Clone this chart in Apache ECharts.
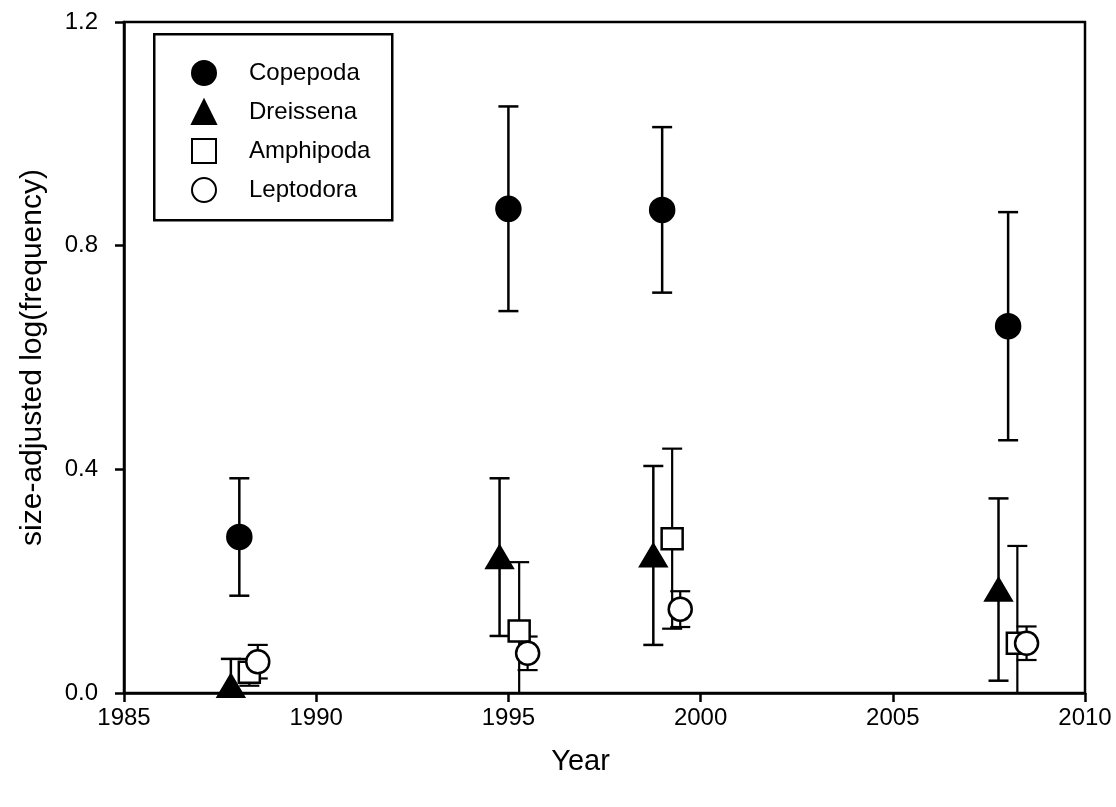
<!DOCTYPE html>
<html>
<head>
<meta charset="utf-8">
<script src="https://cdn.jsdelivr.net/npm/echarts@6/dist/echarts.min.js"></script>
<style>
  html, body { margin: 0; padding: 0; background: #fff; }
  #chart { width: 1116px; height: 807px; }
</style>
</head>
<body>
<div id="chart"></div>
<script>
// ---- data ----
const seriesNames = ['Copepoda', 'Dreissena', 'Amphipoda', 'Leptodora'];
const xTicks = [1985, 1990, 1995, 2000, 2005, 2010];
const yTicks = [0.0, 0.4, 0.8, 1.2];

const copYears = [1988.0, 1995.0, 1999.0, 2008.0];
const copMean  = [0.279, 0.866, 0.864, 0.656];
const copErr   = [0.105, 0.183, 0.148, 0.204];

const dreYears = [1987.78, 1994.77, 1998.77, 2007.75];
const dreMean  = [0.013, 0.243, 0.246, 0.185];
const dreErr   = [0.048, 0.141, 0.160, 0.163];

const ampYears = [1988.26, 1995.28, 1999.26, 2008.24];
const ampMean  = [0.037, 0.111, 0.276, 0.089];
const ampErr   = [0.024, 0.123, 0.161, 0.174];

const lepYears = [1988.48, 1995.5, 1999.47, 2008.48];
const lepMean  = [0.056, 0.071, 0.150, 0.089];
const lepErr   = [0.030, 0.030, 0.032, 0.030];

const FONT = 'Liberation Sans, Arial, Helvetica, sans-serif';

function toPoints(xs, ys) { return xs.map((x, i) => [x, ys[i]]); }
function toBars(xs, ys, es) { return xs.map((x, i) => [x, ys[i] - es[i], ys[i] + es[i]]); }

function errorSeries(name, data, lw) {
  return {
    type: 'custom',
    name: name + ' error',
    data: data,
    clip: true,
    silent: true,
    encode: { x: 0, y: [1, 2] },
    renderItem: function (params, api) {
      const x = api.value(0);
      const lo = api.coord([x, api.value(1)]);
      const hi = api.coord([x, api.value(2)]);
      const hw = 10;
      const st = { stroke: '#000', lineWidth: lw, fill: null };
      return {
        type: 'group',
        children: [
          { type: 'line', shape: { x1: lo[0], y1: lo[1], x2: hi[0], y2: hi[1] }, style: st },
          { type: 'line', shape: { x1: hi[0] - hw, y1: hi[1], x2: hi[0] + hw, y2: hi[1] }, style: st },
          { type: 'line', shape: { x1: lo[0] - hw, y1: lo[1], x2: lo[0] + hw, y2: lo[1] }, style: st }
        ]
      };
    }
  };
}

function pointSeries(name, data, symbol, size, fill) {
  return {
    type: 'scatter',
    name: name,
    data: data,
    symbol: symbol,
    symbolSize: size,
    clip: false,
    itemStyle: { color: fill, borderColor: '#000', borderWidth: 2.5, opacity: 1 },
    emphasis: { disabled: true }
  };
}

const chart = echarts.init(document.getElementById('chart'), null, { renderer: 'canvas' });

const option = {
  animation: false,
  backgroundColor: '#fff',
  textStyle: { fontFamily: FONT, color: '#000' },
  grid: {
    left: 124, right: 31, top: 22, bottom: 114,
    show: true, borderColor: '#000', borderWidth: 2.5, backgroundColor: 'transparent'
  },
  graphic: [{
    type: 'rect',
    left: 153, top: 33,
    shape: { width: 238, height: 186 },
    style: { fill: '#fff', stroke: '#000', lineWidth: 2.5 },
    z: 50
  }],
  legend: {
    data: seriesNames,
    orient: 'vertical',
    left: 191, top: 60,
    itemWidth: 24, itemHeight: 24,
    itemGap: 13,
    padding: 0,
    z: 60,
    selectedMode: false,
    textStyle: { fontFamily: FONT, fontSize: 24, color: '#000', padding: [0, 0, 0, 28] }
  },
  xAxis: {
    type: 'value',
    min: xTicks[0], max: xTicks[xTicks.length - 1], interval: 5,
    name: 'Year', nameLocation: 'middle', nameGap: 54,
    nameTextStyle: { fontFamily: FONT, fontSize: 29, color: '#000', padding: [0, 48, 0, 0] },
    axisLine: { show: true, onZero: false, lineStyle: { color: '#000', width: 2.5 } },
    axisTick: { show: true, inside: false, length: 9, lineStyle: { color: '#000', width: 2.5 } },
    axisLabel: { fontFamily: FONT, fontSize: 24, color: '#000', margin: 13,
                 formatter: v => String(v) },
    splitLine: { show: false }
  },
  yAxis: {
    type: 'value',
    min: yTicks[0], max: yTicks[yTicks.length - 1], interval: 0.4,
    name: 'size-adjusted log(frequency)', nameLocation: 'middle', nameGap: 76,
    nameTextStyle: { fontFamily: FONT, fontSize: 30, color: '#000' },
    axisLine: { show: true, lineStyle: { color: '#000', width: 2.5 } },
    axisTick: { show: true, inside: false, length: 9, lineStyle: { color: '#000', width: 2.5 } },
    axisLabel: { fontFamily: FONT, fontSize: 24, color: '#000', margin: 26,
                 formatter: v => v.toFixed(1) },
    splitLine: { show: false }
  },
  series: [
    errorSeries('Copepoda', toBars(copYears, copMean, copErr), 2.5),
    pointSeries('Copepoda', toPoints(copYears, copMean), 'circle', 24, '#000'),
    errorSeries('Dreissena', toBars(dreYears, dreMean, dreErr), 2.5),
    pointSeries('Dreissena', toPoints(dreYears, dreMean), 'triangle', [26, 22], '#000'),
    errorSeries('Amphipoda', toBars(ampYears, ampMean, ampErr), 2.2),
    pointSeries('Amphipoda', toPoints(ampYears, ampMean), 'rect', 21, '#fff'),
    errorSeries('Leptodora', toBars(lepYears, lepMean, lepErr), 2.2),
    pointSeries('Leptodora', toPoints(lepYears, lepMean), 'circle', 23, '#fff')
  ]
};
chart.setOption(option);
</script>
</body>
</html>
